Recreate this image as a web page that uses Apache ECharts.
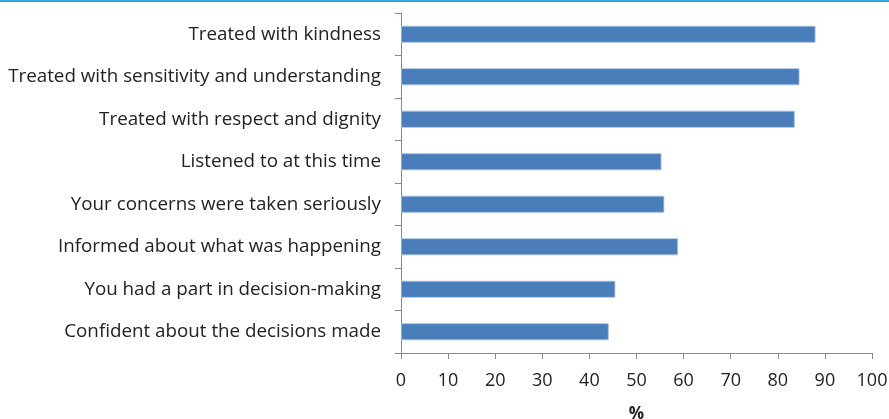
<!DOCTYPE html>
<html>
<head>
<meta charset="utf-8">
<script src="https://cdn.jsdelivr.net/npm/echarts@6/dist/echarts.min.js"></script>
<style>
html,body{margin:0;padding:0;background:#fff;}
#chart{width:889px;height:419px;}
</style>
</head>
<body>
<div id="chart"></div>
<script>
const categories = [
  "Treated with kindness",
  "Treated with sensitivity and understanding",
  "Treated with respect and dignity",
  "Listened to at this time",
  "Your concerns were taken seriously",
  "Informed about what was happening",
  "You had a part in decision-making",
  "Confident about the decisions made"
];
const values = [88, 84.6, 83.6, 55.3, 55.9, 58.8, 45.5, 44.1];
const xTicks = [0, 10, 20, 30, 40, 50, 60, 70, 80, 90, 100];
const xAxisName = "%";

const chart = echarts.init(document.getElementById('chart'), null, {renderer: 'canvas'});
const font = "'Open Sans', sans-serif";
chart.setOption({
  animation: false,
  grid: {left: 401, right: 17, top: 13, bottom: 66, containLabel: false, outerBoundsMode: 'none'},
  graphic: [{
    type: 'rect', shape: {x: 0, y: 0, width: 889, height: 2},
    style: {fill: '#2FA9DF'}
  }],
  xAxis: {
    type: 'value', min: xTicks[0], max: xTicks[xTicks.length - 1], interval: 10,
    name: xAxisName, nameLocation: 'middle', nameGap: 53,
    nameTextStyle: {fontFamily: font, fontSize: 17, fontWeight: 'bold', color: '#222'},
    axisLine: {show: true, lineStyle: {color: '#888', width: 1}},
    axisTick: {show: true, length: 6, lineStyle: {color: '#888'}},
    axisLabel: {fontFamily: font, fontSize: 18, color: '#222', margin: 19},
    splitLine: {show: false}
  },
  yAxis: {
    type: 'category', data: categories, inverse: true,
    axisLine: {show: true, lineStyle: {color: '#888', width: 1}},
    axisTick: {show: true, length: 6, lineStyle: {color: '#888'}},
    axisLabel: {fontFamily: font, fontSize: 18.8, color: '#222', margin: 20, padding: [3, 0, 0, 0]}
  },
  series: [{
    type: 'bar', data: values, barWidth: 17,
    itemStyle: {color: '#4A7EBB', borderColor: '#A9C2E2', borderWidth: 0.8}
  }]
});
</script>
</body>
</html>
